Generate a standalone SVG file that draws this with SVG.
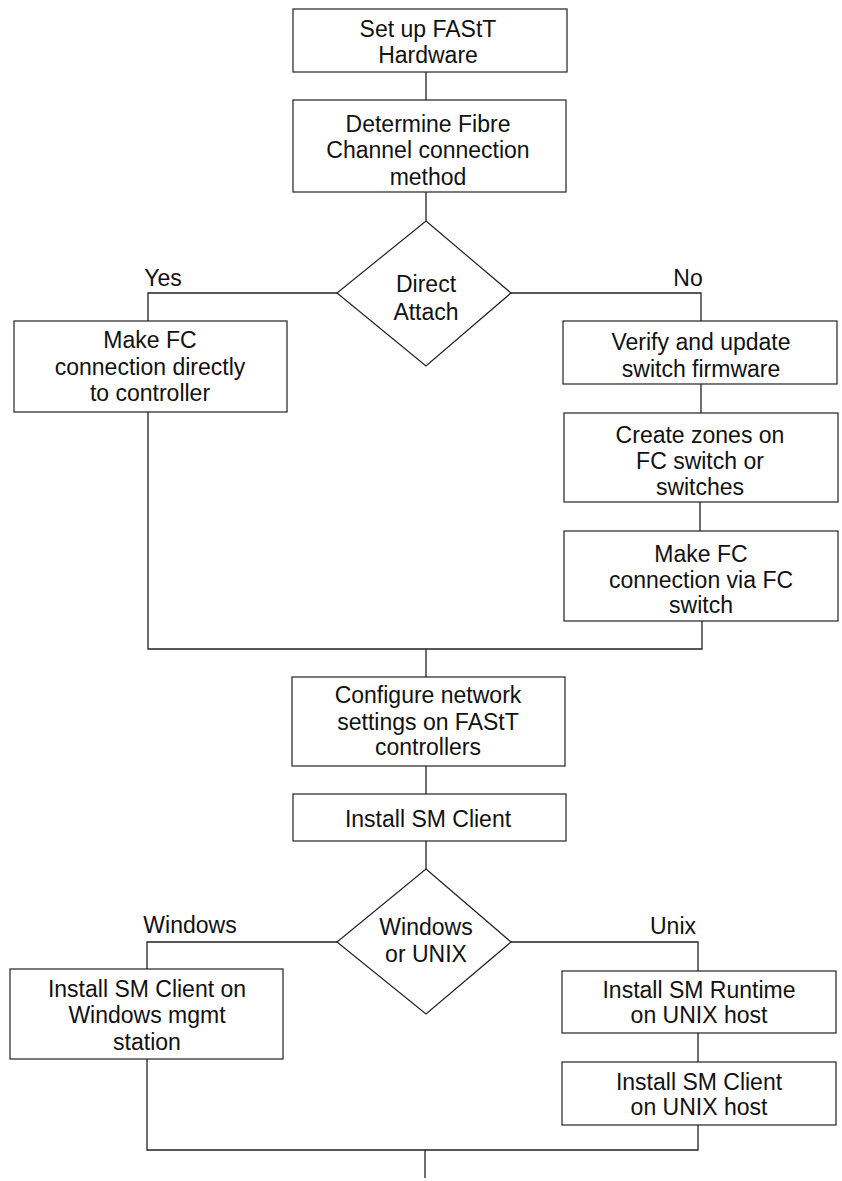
<svg xmlns="http://www.w3.org/2000/svg" width="842" height="1181" viewBox="0 0 842 1181">
<style>
.box{fill:#fff;stroke:#222;stroke-width:1.2}
.c{fill:none;stroke:#222;stroke-width:1.3}
text{font-family:"Liberation Sans",Arial,sans-serif;font-size:23px;fill:#111;text-anchor:middle}
</style>
<rect width="842" height="1181" fill="#fff"/>
<g id="connectors">
<path class="c" d="M426 72V100M426 192V221"/>
<path class="c" d="M337 293H148V321M511 293H701V321"/>
<path class="c" d="M701 384V413M700 502V531M702 621V649H148V412M426 649V677"/>
<path class="c" d="M426 766V794M426 841V869"/>
<path class="c" d="M337 942H147V969M511 942H698V971"/>
<path class="c" d="M698 1033V1062M698 1125V1150H147V1059M425 1150V1178"/>
</g>
<g id="labels">
<text x="163" y="286">Yes</text>
<text x="688" y="286">No</text>
<text x="190" y="933">Windows</text>
<text x="673" y="934">Unix</text>
</g>
<g id="n1"><rect class="box" x="293" y="9" width="274" height="63"/><text x="428" y="37">Set up FAStT</text><text x="428" y="63">Hardware</text></g>
<g id="n2"><rect class="box" x="293" y="100" width="273" height="92"/><text x="428" y="132">Determine Fibre</text><text x="428" y="158">Channel connection</text><text x="428" y="185">method</text></g>
<g id="d1"><polygon class="box" points="426,221 511,293 426,366 337,293"/><text x="426" y="292">Direct</text><text x="426" y="320">Attach</text></g>
<g id="n3"><rect class="box" x="14" y="321" width="273" height="91"/><text x="150" y="348">Make FC</text><text x="150" y="375">connection directly</text><text x="150" y="401">to controller</text></g>
<g id="n4"><rect class="box" x="563" y="321" width="274" height="63"/><text x="701" y="350">Verify and update</text><text x="701" y="377">switch firmware</text></g>
<g id="n5"><rect class="box" x="564" y="413" width="274" height="89"/><text x="700" y="443">Create zones on</text><text x="700" y="469">FC switch or</text><text x="700" y="495">switches</text></g>
<g id="n6"><rect class="box" x="564" y="531" width="274" height="90"/><text x="701" y="562">Make FC</text><text x="701" y="588">connection via FC</text><text x="701" y="613">switch</text></g>
<g id="n7"><rect class="box" x="292" y="677" width="273" height="89"/><text x="428" y="703">Configure network</text><text x="428" y="730">settings on FAStT</text><text x="428" y="755">controllers</text></g>
<g id="n8"><rect class="box" x="293" y="794" width="273" height="47"/><text x="428" y="827">Install SM Client</text></g>
<g id="d2"><polygon class="box" points="426,869 511,942 426,1014 337,942"/><text x="426" y="935">Windows</text><text x="426" y="962">or UNIX</text></g>
<g id="n9"><rect class="box" x="10" y="969" width="273" height="90"/><text x="147" y="997">Install SM Client on</text><text x="147" y="1023">Windows mgmt</text><text x="147" y="1050">station</text></g>
<g id="n10"><rect class="box" x="562" y="971" width="274" height="62"/><text x="699" y="998">Install SM Runtime</text><text x="699" y="1023">on UNIX host</text></g>
<g id="n11"><rect class="box" x="562" y="1062" width="274" height="63"/><text x="699" y="1090">Install SM Client</text><text x="699" y="1115">on UNIX host</text></g>
</svg>
